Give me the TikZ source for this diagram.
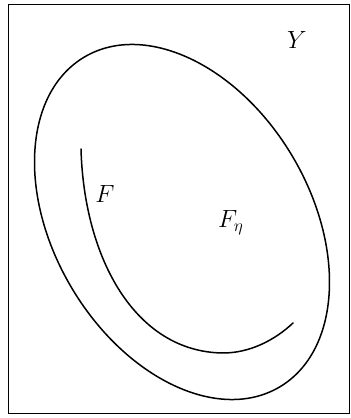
\documentclass[tikz,border=0pt]{standalone}
\usepackage{amsmath,amssymb}
\usepackage{tikz}
\usetikzlibrary{positioning}

\begin{document}
\begin{tikzpicture}[
  x=1pt, y=1pt,
  lbl/.style={inner sep=0pt, font=\fontsize{26}{30}\selectfont},
  curve/.style={line width=1.5pt, line cap=round}
]
\useasboundingbox (0,0) rectangle (351,418);
\draw[line width=1pt] (8,4) rectangle (349,413);
% the space Y and the region F_eta
\draw[curve, rotate around={-59.4:(182,196)}] (182,196) ellipse [x radius=191.7, y radius=128.5];
% the curve F
\draw[curve] (81,269) .. controls (84,160) and (135,66) .. (223,65)
  .. controls (250,65) and (275,78) .. (293,95);
\node[lbl, anchor=base] (y) at (297,369) {$Y$};
\node[lbl, anchor=base] (f) at (105,215) {$F$};
\node[lbl, anchor=base west] (feta) at (218,190) {$F_\eta$};
\end{tikzpicture}
\end{document}
